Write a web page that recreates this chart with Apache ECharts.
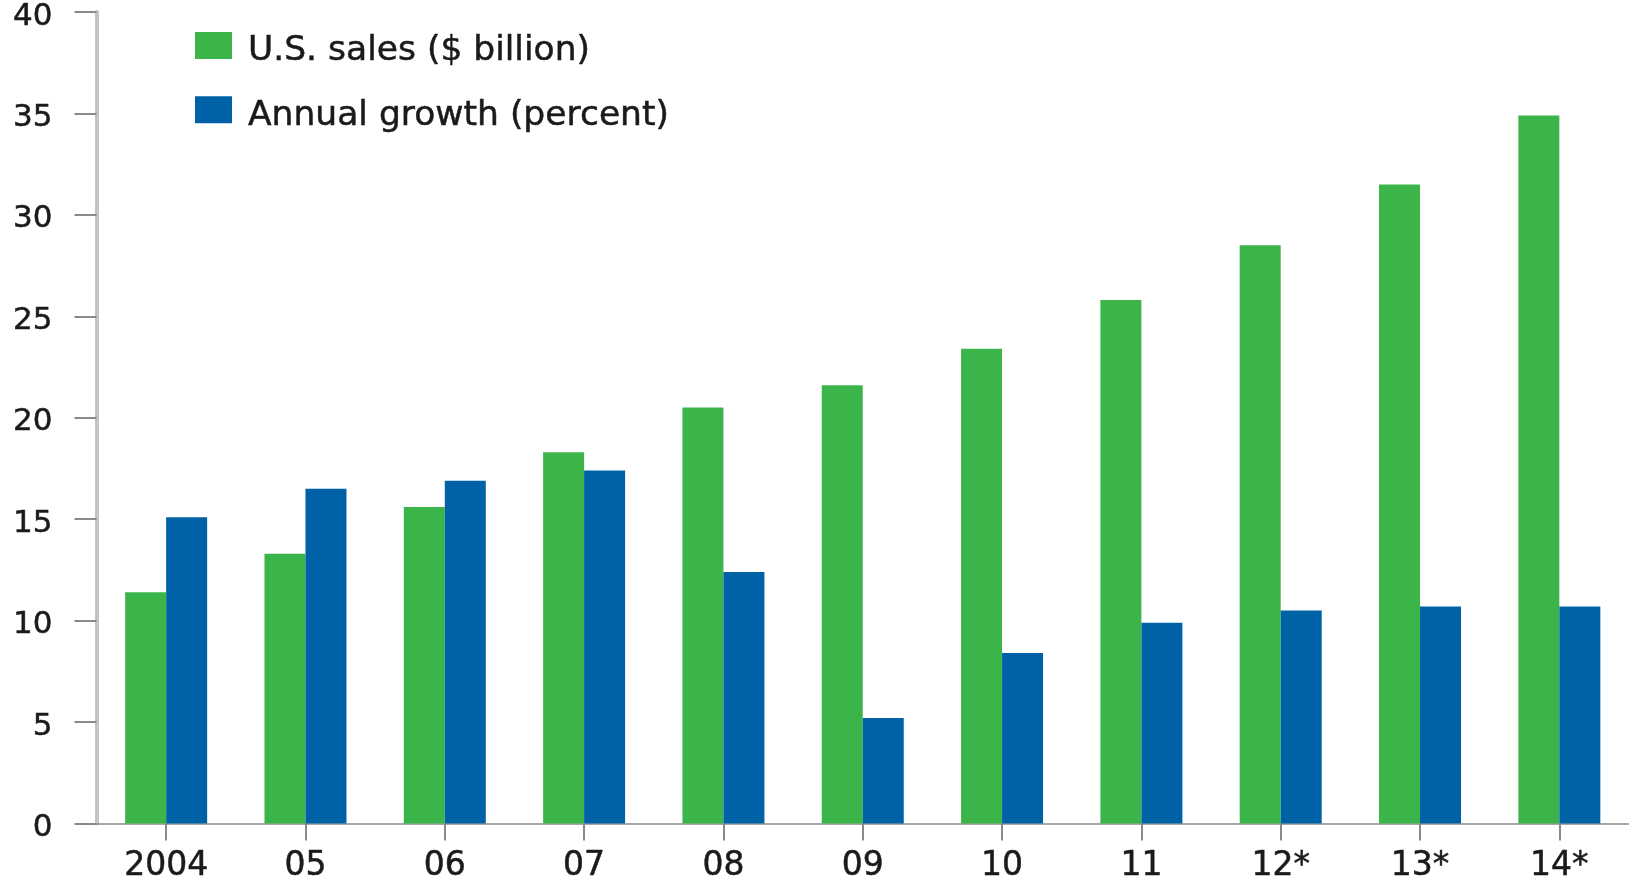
<!DOCTYPE html>
<html>
<head>
<meta charset="utf-8">
<style>
  html, body { margin: 0; padding: 0; background: #ffffff; }
  #chart { width: 1629px; height: 882px; }
</style>
<script src="https://cdn.jsdelivr.net/npm/echarts@6/dist/echarts.min.js"></script>
</head>
<body>
<div id="chart"></div>
<script>
const categories = ['2004', '05', '06', '07', '08', '09', '10', '11', '12*', '13*', '14*'];
const salesBillion = [11.4, 13.3, 15.6, 18.3, 20.5, 21.6, 23.4, 25.8, 28.5, 31.5, 34.9];
const growthPercent = [15.1, 16.5, 16.9, 17.4, 12.4, 5.2, 8.4, 9.9, 10.5, 10.7, 10.7];
const seriesNames = ['U.S. sales ($ billion)', 'Annual growth (percent)'];

const chart = echarts.init(document.getElementById('chart'), null, { renderer: 'canvas' });
const FONT = 'DejaVu Sans';
const TEXT_COLOR = '#1a1a1a';

chart.setOption({
  animation: false,
  backgroundColor: '#ffffff',
  legend: {
    data: seriesNames,
    orient: 'vertical',
    left: 195,
    top: 22,
    padding: 0,
    itemWidth: 37,
    itemHeight: 27,
    itemGap: 17,
    icon: 'rect',
    formatter: '{t|{name}}',
    textStyle: {
      rich: {
        t: {
          fontFamily: FONT,
          fontSize: 34.5,
          color: TEXT_COLOR,
          textBorderColor: TEXT_COLOR,
          textBorderWidth: 0.5,
          lineHeight: 35,
          padding: [12, 0, 0, 11]
        }
      }
    }
  },
  grid: {
    left: 96.5,
    right: 0,
    top: 12,
    bottom: 58.5,
    containLabel: false,
    outerBoundsMode: 'none'
  },
  xAxis: {
    type: 'category',
    data: categories,
    boundaryGap: true,
    axisLine: { show: true, lineStyle: { color: '#8a8a8a', width: 1.5 } },
    axisTick: { show: true, alignWithLabel: true, length: 17, lineStyle: { color: '#8a8a8a', width: 2 } },
    axisLabel: {
      fontFamily: FONT,
      fontSize: 33,
      color: TEXT_COLOR,
      textBorderColor: TEXT_COLOR,
      textBorderWidth: 0.5,
      margin: 26
    },
    splitLine: { show: false }
  },
  yAxis: {
    type: 'value',
    min: 0,
    max: 40,
    interval: 5,
    axisLine: { show: true, lineStyle: { color: '#c4c4c4', width: 4 } },
    axisTick: { show: true, length: 22, lineStyle: { color: '#8a8a8a', width: 2 } },
    axisLabel: {
      margin: 44,
      formatter: '{v|{value}}',
      rich: {
        v: {
          fontFamily: FONT,
          fontSize: 31,
          color: TEXT_COLOR,
          textBorderColor: TEXT_COLOR,
          textBorderWidth: 0.5,
          lineHeight: 31,
          padding: [9, 0, 0, 0]
        }
      }
    },
    splitLine: { show: false }
  },
  series: [
    {
      name: seriesNames[0],
      type: 'bar',
      data: salesBillion,
      barWidth: 41,
      barGap: '0%',
      itemStyle: { color: '#3bb54a' }
    },
    {
      name: seriesNames[1],
      type: 'bar',
      data: growthPercent,
      barWidth: 41,
      barGap: '0%',
      itemStyle: { color: '#0062a6' }
    }
  ]
});
</script>
</body>
</html>
